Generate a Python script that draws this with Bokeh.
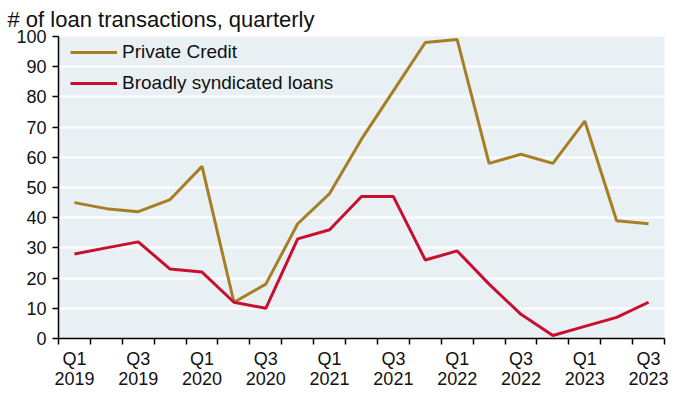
from bokeh.plotting import figure
from bokeh.models import FixedTicker, Legend, LegendItem, Range1d
from bokeh.embed import file_html
from bokeh.resources import INLINE

quarters = [
    "Q1\n2019", "Q2\n2019", "Q3\n2019", "Q4\n2019",
    "Q1\n2020", "Q2\n2020", "Q3\n2020", "Q4\n2020",
    "Q1\n2021", "Q2\n2021", "Q3\n2021", "Q4\n2021",
    "Q1\n2022", "Q2\n2022", "Q3\n2022", "Q4\n2022",
    "Q1\n2023", "Q2\n2023", "Q3\n2023",
]
private_credit = [45, 43, 42, 46, 57, 12, 18, 38, 48, 66, 82, 98, 99, 58, 61, 58, 72, 39, 38]
broadly_syndicated = [28, 30, 32, 23, 22, 12, 10, 33, 36, 47, 47, 26, 29, 18, 8, 1, 4, 7, 12]
y_ticks = list(range(0, 101, 10))

title_text = "# of loan transactions, quarterly"
gold = "#A67F24"
red = "#C8102E"
font = "Liberation Sans"

xs = list(range(len(quarters)))

p = figure(
    width=669, height=391,
    output_backend="svg", toolbar_location=None,
    x_range=Range1d(-0.5, len(quarters) - 0.5),
    y_range=Range1d(0, 100),
    min_border_left=58, min_border_right=5, min_border_bottom=50, min_border_top=36,
)
p.title.text = title_text
p.title.text_font = font
p.title.text_font_size = "22px"
p.title.text_font_style = "normal"
p.title.text_color = "#111111"
p.title.align = "left"
p.title.offset = -51
p.title.standoff = 9

p.background_fill_color = "#E9F0F4"
p.border_fill_color = "white"
p.outline_line_color = None

r1 = p.line(xs, private_credit, line_color=gold, line_width=3)
r2 = p.line(xs, broadly_syndicated, line_color=red, line_width=3)

# x axis
xa = p.xaxis[0]
xa.ticker = FixedTicker(ticks=xs[::2], minor_ticks=[i - 0.5 for i in range(len(quarters) + 1)])
xa.major_label_overrides = {i: quarters[i] for i in xs[::2]}
xa.major_tick_line_color = None
xa.minor_tick_line_color = "black"
xa.minor_tick_line_width = 1.5
xa.minor_tick_out = 6
xa.minor_tick_in = 0
xa.axis_line_color = "black"
xa.axis_line_width = 1.5
xa.major_label_text_font = font
xa.major_label_text_font_size = "18px"
xa.major_label_text_color = "#111111"
xa.major_label_text_line_height = 1.0
xa.major_label_standoff = 4

# y axis
ya = p.yaxis[0]
ya.ticker = FixedTicker(ticks=y_ticks)
ya.major_tick_line_color = "black"
ya.major_tick_line_width = 1.5
ya.major_tick_out = 6
ya.major_tick_in = 0
ya.minor_tick_line_color = None
ya.axis_line_color = "black"
ya.axis_line_width = 1.5
ya.major_label_text_font = font
ya.major_label_text_font_size = "18px"
ya.major_label_text_color = "#111111"
ya.major_label_standoff = 6

p.xgrid.grid_line_color = None
p.ygrid.grid_line_color = "white"
p.ygrid.grid_line_width = 2

legend = Legend(
    items=[
        LegendItem(label="Private Credit", renderers=[r1]),
        LegendItem(label="Broadly syndicated loans", renderers=[r2]),
    ],
    location=(12, 244),
    background_fill_alpha=0,
    border_line_color=None,
    label_text_font=font,
    label_text_font_size="19px",
    label_text_color="#111111",
    glyph_width=47,
    glyph_height=20,
    label_height=20,
    label_standoff=5,
    spacing=9,
    padding=0,
    margin=0,
)
p.add_layout(legend)

open("out.html", "w").write(file_html(p, INLINE))
